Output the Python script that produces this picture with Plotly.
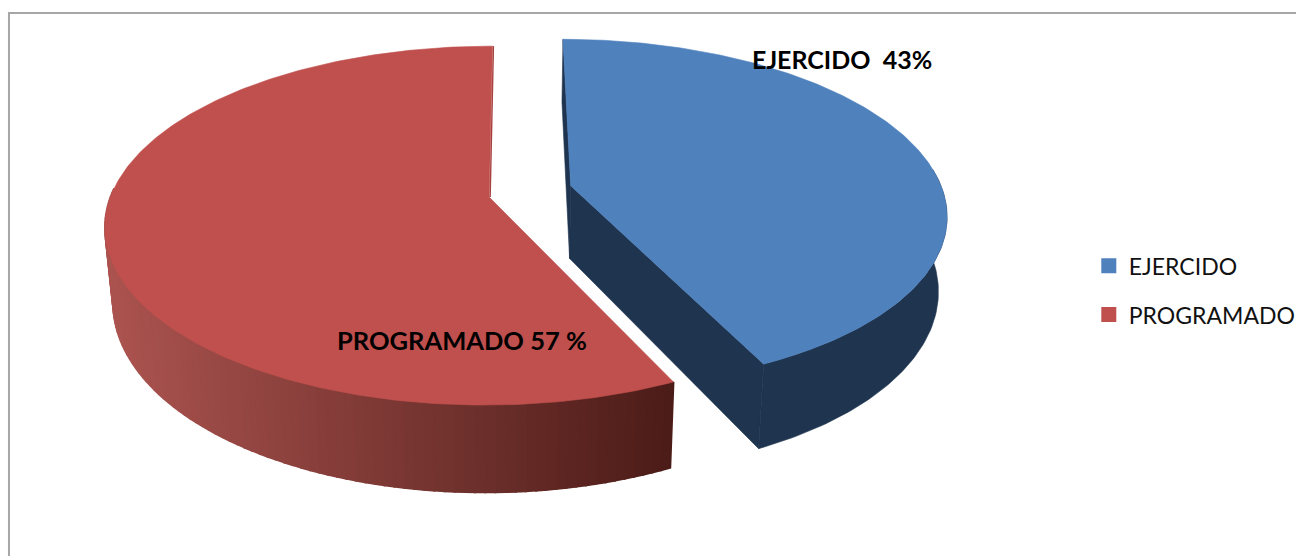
import numpy as np
import plotly.graph_objects as go

categories = ["EJERCIDO", "PROGRAMADO"]
values = [43, 57]
label_texts = ["EJERCIDO  43%", "PROGRAMADO 57 %"]
top_colors = ["#4F81BD", "#C0504D"]
wall_color_blue = "#1F344F"
wall_red_left = np.array([172, 84, 80])
wall_red_right = np.array([76, 28, 24])
FONT = "Lato"

# view model of the tilted disc
XC, YC = 515.0, 191.0
A, B, P = 378.0, 173.0, 0.158
DEPTH = 73.0
SHRINK = 0.98
# exploded offset and radius of each slice, in disc radii
offsets = {"EJERCIDO": (0.154, -0.03), "PROGRAMADO": (-0.063, 0.035)}
radii = {"EJERCIDO": 0.988, "PROGRAMADO": 1.0}


def project(u, v, bottom=False):
    d = 1 - P * v
    k = SHRINK if bottom else 1.0
    x = XC + k * A * u / d
    y = YC + B * v / d + (DEPTH / d if bottom else 0)
    return x, y


def disc(theta, ox, oz, r=1.0):
    return ox + r * np.sin(theta), oz - r * np.cos(theta)


fracs = np.array(values) / sum(values)
t0 = 0.0
spans = {}
for c, f in zip(categories, fracs):
    spans[c] = (t0, t0 + f * 2 * np.pi)
    t0 += f * 2 * np.pi

fig = go.Figure()


def poly(x, y, color, lw=0.6):
    fig.add_trace(go.Scatter(x=list(x), y=list(y), mode="lines", fill="toself", fillcolor=color,
                             line=dict(color=color, width=lw), hoverinfo="skip",
                             showlegend=False))


def quad_wall(u1, v1, u2, v2, color, lw=0.6):
    xa, ya = project(u1, v1)
    xb, yb = project(u2, v2)
    xc, yc = project(u2, v2, True)
    xd, yd = project(u1, v1, True)
    poly([xa, xb, xc, xd, xa], [ya, yb, yc, yd, ya], color, lw)


# ---- red slice: outer wall with a shading ramp, then the top
ox, oz = offsets["PROGRAMADO"]
r = radii["PROGRAMADO"]
s, e = spans["PROGRAMADO"]
ts = np.linspace(s, 3 * np.pi / 2 + 0.05, 90)
xs_all = [project(*disc(t, ox, oz, r))[0] for t in ts]
xmin, xmax = min(xs_all), max(xs_all)
for t1, t2 in zip(ts[:-1], ts[1:]):
    u1, v1 = disc(t1, ox, oz, r)
    u2, v2 = disc(t2, ox, oz, r)
    xm = project((u1 + u2) / 2, (v1 + v2) / 2)[0]
    w = (xm - xmin) / (xmax - xmin)
    col = wall_red_left + (wall_red_right - wall_red_left) * w
    quad_wall(u1, v1, u2, v2, "rgb(%d,%d,%d)" % tuple(col), 2.0)
tt = np.linspace(s, e, 240)
u, v = disc(tt, ox, oz, r)
u = np.r_[ox, u, ox]
v = np.r_[oz, v, oz]
x, y = project(u, v)
poly(x, y, top_colors[1])
# thin darker edge on the far cut of the red slice
ue, ve = disc(e, ox, oz, r)
xa, ya = project(ox, oz)
xb, yb = project(ue, ve)
fig.add_trace(go.Scatter(x=[xa + 1, xb + 1], y=[ya, yb], mode="lines",
                         line=dict(color="#A8403D", width=1.4), hoverinfo="skip", showlegend=False))

# ---- blue slice: walls, then the top
ox, oz = offsets["EJERCIDO"]
r = radii["EJERCIDO"]
s, e = spans["EJERCIDO"]
ue, ve = disc(e, ox, oz, r)
quad_wall(ox, oz, ue, ve, wall_color_blue)
quad_wall(ox, oz, *disc(s, ox, oz, r), wall_color_blue)
tw = np.linspace(np.pi / 2 - 0.1, e, 80)
uw, vw = disc(tw, ox, oz, r)
xt, yt = project(uw, vw)
xb_, yb_ = project(uw, vw, True)
poly(np.r_[xt, xb_[::-1]], np.r_[yt, yb_[::-1]], wall_color_blue)
tt = np.linspace(s, e, 200)
u, v = disc(tt, ox, oz, r)
u = np.r_[ox, u, ox]
v = np.r_[oz, v, oz]
x, y = project(u, v)
poly(x, y, top_colors[0])

# ---- legend entries
for c, col in zip(categories, top_colors):
    fig.add_trace(go.Scatter(x=[None], y=[None], mode="markers", name=c, legendgroup=c,
                             marker=dict(symbol="square", size=15, color=col)))

fig.update_layout(
    width=1301, height=556, autosize=False,
    margin=dict(l=0, r=0, t=0, b=0),
    paper_bgcolor="white", plot_bgcolor="white",
    xaxis=dict(range=[0, 1301], visible=False, fixedrange=True),
    yaxis=dict(range=[556, 0], visible=False, fixedrange=True),
    legend=dict(x=1093 / 1301, xref="paper", y=0.478, yanchor="middle", xanchor="left",
                font=dict(family=FONT, size=23, color="#111"),
                tracegroupgap=16, itemclick=False, itemdoubleclick=False,
                bgcolor="rgba(0,0,0,0)"),
    font=dict(family=FONT),
    shapes=[dict(type="path", path="M 1301 13 L 9 13 L 9 556", xref="x", yref="y",
                 line=dict(color="#A6A6A6", width=2))],
    annotations=[
        dict(x=845, y=59, xref="x", yref="y", text="<b>%s</b>" % label_texts[0].replace("  ", "&nbsp; "),
             showarrow=False, font=dict(family=FONT, size=25, color="black")),
        dict(x=464, y=340, xref="x", yref="y", text="<b>%s</b>" % label_texts[1],
             showarrow=False, font=dict(family=FONT, size=25.5, color="black")),
    ],
)
fig.write_html("out.html", config=dict(displayModeBar=False),
               post_script="document.body.style.margin='0';document.body.style.overflow='hidden';")
